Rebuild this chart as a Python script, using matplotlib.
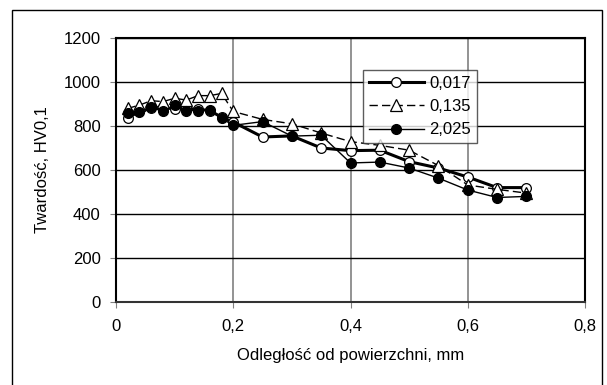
import matplotlib
matplotlib.use("Agg")
import matplotlib.pyplot as plt
from matplotlib.patches import Rectangle

plt.rcParams['font.family'] = ['Liberation Sans', 'DejaVu Sans']

x = [0.02, 0.04, 0.06, 0.08, 0.10, 0.12, 0.14, 0.16, 0.18, 0.20,
     0.25, 0.30, 0.35, 0.40, 0.45, 0.50, 0.55, 0.60, 0.65, 0.70]
s017 = [838, 866, 880, 886, 876, 880, 876, 870, 840, 818,
        750, 755, 700, 688, 690, 638, 609, 568, 520, 520]
s135 = [880, 895, 915, 911, 926, 918, 938, 938, 948, 866,
        830, 810, 768, 729, 712, 690, 620, 532, 512, 495]
s2025 = [858, 865, 885, 866, 895, 870, 870, 873, 835, 803,
         820, 754, 758, 632, 636, 609, 563, 509, 475, 480]
labels = ['0,017', '0,135', '2,025']
xticks = [0, 0.2, 0.4, 0.6, 0.8]
xticklabels = ['0', '0,2', '0,4', '0,6', '0,8']
yticks = [0, 200, 400, 600, 800, 1000, 1200]

FS = 12

fig = plt.figure(figsize=(6.07, 3.85), dpi=100)
ax = fig.add_axes([116/607, 1-302/385, 469/607, 264/385])

ax.plot(x, s017, '-o', color='black', lw=2.2, ms=7, mfc='white', mec='black', mew=0.9, label=labels[0], zorder=3)
ax.plot(x, s135, '--^', color='black', lw=1.0, ms=8, mfc='white', mec='black', mew=0.9, label=labels[1], dashes=(6, 3), zorder=4)
ax.plot(x, s2025, '-o', color='black', lw=1.0, ms=7, mfc='black', mec='black', label=labels[2], zorder=5)

ax.set_xlim(0, 0.8)
ax.set_ylim(0, 1200)
ax.set_xticks(xticks)
ax.set_xticklabels(xticklabels)
ax.set_yticks(yticks)
ax.grid(axis='y', color='black', lw=1.0)
ax.grid(axis='x', color='#808080', lw=1.2)
ax.set_axisbelow(True)
for s in ['left', 'right', 'top']:
    ax.spines[s].set_color('black')
    ax.spines[s].set_linewidth(1.5)
ax.spines['bottom'].set_color('#333333')
ax.spines['bottom'].set_linewidth(1.5)
ax.tick_params(axis='both', direction='out', length=4, labelsize=FS, colors='black')
ax.tick_params(axis='x', color='#808080', pad=8)
ax.tick_params(axis='y', color='#808080', pad=7)

ax.set_xlabel('Odległość od powierzchni, mm', fontsize=FS, labelpad=10)
ax.set_ylabel('Twardość, HV0,1', fontsize=FS, labelpad=10)

leg = ax.legend(loc='upper left', bbox_to_anchor=(0.527, 0.879), frameon=True,
                fancybox=False, edgecolor='#333333', fontsize=FS,
                handlelength=3.3, borderpad=0.35, labelspacing=0.5,
                handletextpad=0.3, borderaxespad=0)
leg.get_frame().set_linewidth(1.0)

fig.patches.append(Rectangle((12/607, -0.05), (602-12)/607, 1.05 - 10/385,
                             transform=fig.transFigure, fill=False,
                             edgecolor='black', lw=1.0))

fig.savefig('out.png', dpi=100)
